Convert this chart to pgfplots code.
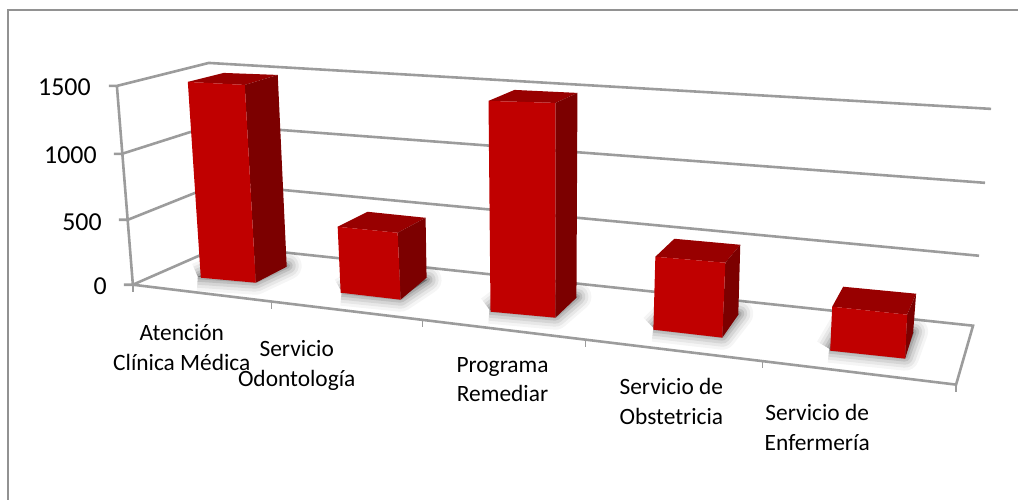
\documentclass[border=0pt]{standalone}
\usepackage{pgfplots}
\pgfplotsset{compat=1.18}
\usepackage{fontspec}
\setmainfont{Carlito}
\definecolor{grid}{HTML}{9C9C9C}
\definecolor{frm}{HTML}{929292}
\definecolor{fr}{HTML}{C00000}
\definecolor{tp}{HTML}{980000}
\definecolor{sd}{HTML}{7C0000}
\newcommand{\shadowpoly}[1]{%
  \addplot[draw=black,fill=black,opacity=0.04,line width=28bp,line join=round] coordinates {#1};
  \addplot[draw=black,fill=black,opacity=0.06,line width=22bp,line join=round] coordinates {#1};
  \addplot[draw=black,fill=black,opacity=0.08,line width=16bp,line join=round] coordinates {#1};
  \addplot[draw=black,fill=black,opacity=0.10,line width=10bp,line join=round] coordinates {#1};
  \addplot[draw=black,fill=black,opacity=0.12,line width=5bp,line join=round] coordinates {#1};
}
\newcommand{\barthree}[3]{%
  \addplot[draw=none,fill=tp] coordinates {#1};
  \addplot[draw=none,fill=sd] coordinates {#2};
  \addplot[draw=none,fill=fr] coordinates {#3};
}
\tikzset{cat/.style={align=center,font=\fontsize{23.5}{30}\selectfont},
         val/.style={anchor=east,inner sep=0pt,font=\fontsize{26}{26}\selectfont}}
\begin{document}
\begin{tikzpicture}
\begin{axis}[
  scale only axis, width=1019bp, height=500bp,
  xmin=0, xmax=1019, ymin=0, ymax=500, y dir=reverse,
  axis line style={draw=none}, xtick=\empty, ytick=\empty,
  clip=false,
  every axis plot/.append style={mark=none},
]
% frame
\addplot[draw=frm,line width=2bp] coordinates {(8,500) (8,10.5) (1019,10.5)};
% gridlines and walls
\addplot[draw=grid,line width=2.6bp] coordinates {(109,86) (117,86) (209,63) (992,109)};
\addplot[draw=grid,line width=2.6bp] coordinates {(114,154) (122,154) (213,125) (986,183)};
\addplot[draw=grid,line width=2.6bp] coordinates {(119,220) (128,220) (218,184) (980,256)};
\addplot[draw=grid,line width=2.6bp] coordinates {(124,285) (133,285) (222,246) (974,326) (957,385) (133,285)};
\addplot[draw=grid,line width=2.6bp] coordinates {(117,86) (133,285)};
% category ticks
\addplot[draw=grid,line width=1.5bp] coordinates {(133,285) (133,292)};
\addplot[draw=grid,line width=1.5bp] coordinates {(272,302) (272,309)};
\addplot[draw=grid,line width=1.5bp] coordinates {(423,320) (423,327)};
\addplot[draw=grid,line width=1.5bp] coordinates {(586,340) (586,347)};
\addplot[draw=grid,line width=1.5bp] coordinates {(763,361) (763,368)};
\addplot[draw=grid,line width=1.5bp] coordinates {(957,385) (957,392)};
% shadows
\shadowpoly{(198,277) (256,281) (288,266) (232,262) (198,277)}
\shadowpoly{(342,292) (401,298) (428,280) (372,275) (342,292)}
\shadowpoly{(490,310) (556,316) (578,297) (515,291) (490,310)}
\shadowpoly{(654,328) (723,336) (740,314) (675,307) (654,328)}
\shadowpoly{(830,349) (906,357) (915,332) (844,325) (830,349)}
% bars: top, side, front
\barthree{(188,82) (224,73) (278,75) (245,85) (188,82)}
         {(245,85) (278,75) (287,267) (256,283) (245,85)}
         {(188,82) (245,85) (256,283) (201,278) (188,82)}
\barthree{(338,227) (368,212) (426,218) (398,233) (338,227)}
         {(398,233) (426,218) (427,278) (401,300) (398,233)}
         {(338,227) (398,233) (401,300) (341,293) (338,227)}
\barthree{(489,101) (515,90) (578,93) (556,103) (489,101)}
         {(556,103) (578,93) (577,298) (556,318) (556,103)}
         {(489,101) (556,103) (556,318) (491,312) (489,101)}
\barthree{(656,257) (675,239) (741,245) (726,263) (656,257)}
         {(726,263) (741,245) (739,315) (723,338) (726,263)}
         {(656,257) (726,263) (723,338) (654,330) (656,257)}
\barthree{(833,307) (844,287) (917,294) (908,315) (833,307)}
         {(908,315) (917,294) (914,333) (906,359) (908,315)}
         {(833,307) (908,315) (906,359) (831,351) (833,307)}
% value labels
\node[val] at (axis cs:91,87) {1500};
\node[val] at (axis cs:97,155) {1000};
\node[val] at (axis cs:102,222) {500};
\node[val] at (axis cs:107,286) {0};
% category labels
\node[cat] at (axis cs:182,348) {Atención\\Clínica Médica};
\node[cat] at (axis cs:297,366) {Servicio\\Odontología};
\node[cat] at (axis cs:503,380) {Programa\\Remediar};
\node[cat] at (axis cs:672,402) {Servicio de\\Obstetricia};
\node[cat] at (axis cs:818,428) {Servicio de\\Enfermería};
\end{axis}
\end{tikzpicture}
\end{document}
